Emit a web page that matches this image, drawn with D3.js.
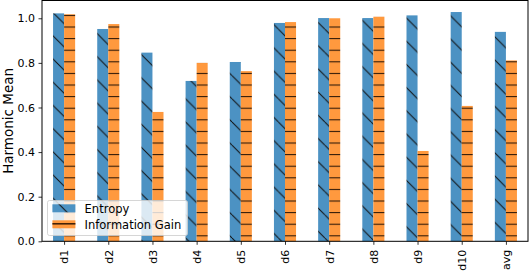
<!DOCTYPE html>
<html>
<head>
<meta charset="utf-8">
<script src="https://cdn.jsdelivr.net/npm/d3@7"></script>
<style>
  body { margin: 0; background: #fff; }
  svg { display: block; font-family: "DejaVu Sans", sans-serif; }
</style>
</head>
<body>
<div id="chart"></div>
<script>
/* data */
const categories = ["d1", "d2", "d3", "d4", "d5", "d6", "d7", "d8", "d9", "d10", "avg"];
const entropy = [1.022, 0.952, 0.846, 0.719, 0.804, 0.979, 1.001, 1.001, 1.013, 1.028, 0.939];
const infoGain = [1.018, 0.974, 0.580, 0.800, 0.763, 0.983, 1.000, 1.007, 0.405, 0.607, 0.811];
const yTicks = [0, 0.2, 0.4, 0.6, 0.8, 1.0];
const seriesNames = ["Entropy", "Information Gain"];

const width = 530, height = 272;
const margin = {left: 42, right: 2, top: 0.5, bottom: 30.7}; // axes box
const barW = 0.25; // in category units

const svg = d3.select("#chart").append("svg")
  .attr("width", width)
  .attr("height", height);

const defs = svg.append("defs");

// hatch "\\" for entropy
const pe = defs.append("pattern")
  .attr("id", "hatchEntropy")
  .attr("patternUnits", "userSpaceOnUse")
  .attr("width", 23.2).attr("height", 23.2)
  .attr("x", 0).attr("y", 6);
pe.append("rect").attr("width", 23.2).attr("height", 23.2).attr("fill", "#4C92C3");
[-23.2, 0, 23.2].forEach(o => {
  pe.append("line")
    .attr("x1", o).attr("y1", 0).attr("x2", o + 23.2).attr("y2", 23.2)
    .attr("stroke", "#111").attr("stroke-width", 1);
});

// hatch "-" for information gain
const pg = defs.append("pattern")
  .attr("id", "hatchGain")
  .attr("patternUnits", "userSpaceOnUse")
  .attr("width", 10).attr("height", 11.6)
  .attr("x", 0).attr("y", 3.3);
pg.append("rect").attr("width", 10).attr("height", 11.6).attr("fill", "#FF993E");
pg.append("line")
  .attr("x1", 0).attr("x2", 10).attr("y1", 0.5).attr("y2", 0.5)
  .attr("stroke", "#2a1606").attr("stroke-width", 1.1);

const x = d3.scaleLinear()
  .domain([-0.5, categories.length - 0.5])
  .range([margin.left, width - margin.right]);

const y = d3.scaleLinear()
  .domain([0, 1.0797])
  .range([height - margin.bottom, margin.top]);

const plot = svg.append("g");

// bars
plot.selectAll("rect.ent")
  .data(entropy)
  .join("rect")
  .attr("class", "ent")
  .attr("x", (d, i) => x(i - barW))
  .attr("width", (d, i) => x(i) - x(i - barW))
  .attr("y", d => y(d))
  .attr("height", d => y(0) - y(d))
  .attr("fill", "url(#hatchEntropy)");

plot.selectAll("rect.ig")
  .data(infoGain)
  .join("rect")
  .attr("class", "ig")
  .attr("x", (d, i) => x(i))
  .attr("width", (d, i) => x(i + barW) - x(i))
  .attr("y", d => y(d))
  .attr("height", d => y(0) - y(d))
  .attr("fill", "url(#hatchGain)");

// axes
const yAxis = svg.append("g")
  .attr("transform", `translate(${margin.left},0)`)
  .call(d3.axisLeft(y).tickValues(yTicks).tickFormat(d3.format(".1f")).tickSize(3.5).tickPadding(3.5));

const xAxis = svg.append("g")
  .attr("transform", `translate(0,${height - margin.bottom})`)
  .call(d3.axisBottom(x).tickValues(d3.range(categories.length)).tickFormat(i => categories[i]).tickSize(3.5).tickPadding(3.5));

xAxis.selectAll("text")
  .attr("transform", "rotate(-90)")
  .attr("text-anchor", "end")
  .attr("x", -8.5)
  .attr("y", 0)
  .attr("dy", "0.35em");

[yAxis, xAxis].forEach(a => {
  a.selectAll("text").attr("font-size", 11).attr("fill", "#000").attr("font-family", "DejaVu Sans");
  a.selectAll("line").attr("stroke", "#000").attr("stroke-width", 0.8);
  a.select(".domain").remove();
});

// frame
svg.append("rect")
  .attr("x", margin.left)
  .attr("y", margin.top)
  .attr("width", width - margin.right - margin.left)
  .attr("height", height - margin.bottom - margin.top)
  .attr("fill", "none")
  .attr("stroke", "#000")
  .attr("stroke-width", 1);

// y label
svg.append("text")
  .attr("transform", `translate(13,${(y(0) + margin.top) / 2}) rotate(-90)`)
  .attr("text-anchor", "middle")
  .attr("font-size", 13.5)
  .text("Harmonic Mean");

// legend
const leg = svg.append("g");
leg.append("rect")
  .attr("x", 47.5).attr("y", 200.5)
  .attr("width", 140).attr("height", 35)
  .attr("rx", 2)
  .attr("fill", "#fff").attr("fill-opacity", 0.8)
  .attr("stroke", "#ccc").attr("stroke-opacity", 0.8);

seriesNames.forEach((name, i) => {
  const yy = 204.3 + i * 16;
  leg.append("rect")
    .attr("x", 52.4).attr("y", yy)
    .attr("width", 23).attr("height", 8)
    .attr("fill", i === 0 ? "url(#hatchEntropy)" : "#FF993E");
  if (i === 1) {
    leg.append("line")
      .attr("x1", 52.4).attr("x2", 75.4).attr("y1", yy + 3.5).attr("y2", yy + 3.5)
      .attr("stroke", "#3a1c06").attr("stroke-width", 1.5);
  }
  leg.append("text")
    .attr("x", 84.6).attr("y", yy + 8.5)
    .attr("font-size", 11.5)
    .text(name);
});
</script>
</body>
</html>
